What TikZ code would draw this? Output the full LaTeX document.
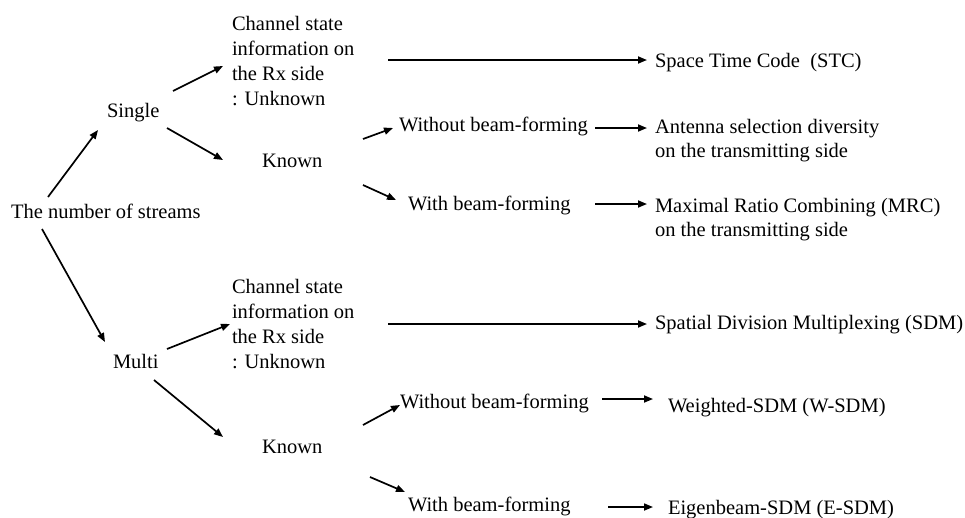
\documentclass[tikz,border=0pt]{standalone}
\usepackage{fontspec}
\setmainfont{Liberation Serif}
\usetikzlibrary{arrows.meta}

\tikzset{
  lbl/.style={inner sep=0pt, outer sep=0pt, anchor=base west,
    font=\fontsize{20.5}{25}\selectfont},
  blockA/.style={inner sep=0pt, outer sep=0pt, anchor=north west, align=left,
    font=\fontsize{20.5}{25}\selectfont},
  blockB/.style={inner sep=0pt, outer sep=0pt, anchor=north west, align=left,
    font=\fontsize{20.5}{24}\selectfont},
  arr/.style={line width=1.7pt, -{Triangle[length=9pt,width=7pt]}},
}

\begin{document}
\begin{tikzpicture}[x=1pt,y=-1pt]
\useasboundingbox (0,0) rectangle (965,517);

% root and stream counts
\node[lbl] (num)    at (11,218)  {The number of streams};
\node[lbl] (single) at (107,117) {Single};
\node[lbl] (multi)  at (113,368) {Multi};

% single stream branch
\node[blockA] (csiA) at (232,16) {Channel state\\information on\\the Rx side\\: Unknown};
\node[lbl] (knownA) at (262,167) {Known};
\node[lbl] (stc)    at (655,67)  {Space Time Code\ \ (STC)};
\node[lbl] (woA)    at (399,131) {Without beam-forming};
\node[lbl] (wA)     at (408,210) {With beam-forming};
\node[blockB] (asd) at (655,119) {Antenna selection diversity\\on the transmitting side};
\node[blockB] (mrc) at (655,198) {Maximal Ratio Combining (MRC)\\on the transmitting side};

% multi stream branch
\node[blockA] (csiB) at (232,279) {Channel state\\information on\\the Rx side\\: Unknown};
\node[lbl] (knownB) at (262,453) {Known};
\node[lbl] (sdm)    at (655,329) {Spatial Division Multiplexing (SDM)};
\node[lbl] (woB)    at (400,408) {Without beam-forming};
\node[lbl] (wB)     at (408,511) {With beam-forming};
\node[lbl] (wsdm)   at (668,412) {Weighted-SDM (W-SDM)};
\node[lbl] (esdm)   at (668,514) {Eigenbeam-SDM (E-SDM)};

% connectors
\draw[arr] ([shift={(37,-21)}]num.base west)   -- ([shift={(-9,13)}]single.base west);
\draw[arr] ([shift={(66,-26)}]single.base west) -- ([shift={(-9,50)}]csiA.north west);
\draw[arr] ([shift={(60,11)}]single.base west)  -- ([shift={(-39,-7)}]knownA.base west);
\draw[arr] ([shift={(156,44)}]csiA.north west)  -- ([shift={(-8,-7)}]stc.base west);
\draw[arr] ([shift={(101,-28)}]knownA.base west) -- ([shift={(-6,-3)}]woA.base west);
\draw[arr] ([shift={(101,18)}]knownA.base west)  -- ([shift={(-12,-10)}]wA.base west);
\draw[arr] ([shift={(196,-3)}]woA.base west)   -- ([shift={(-8,9)}]asd.north west);
\draw[arr] ([shift={(187,-6)}]wA.base west)    -- ([shift={(-8,6)}]mrc.north west);

\draw[arr] ([shift={(31,11)}]num.base west)    -- ([shift={(-8,-26)}]multi.base west);
\draw[arr] ([shift={(54,-19)}]multi.base west) -- ([shift={(-2,45)}]csiB.north west);
\draw[arr] ([shift={(41,12)}]multi.base west)  -- ([shift={(-39,-16)}]knownB.base west);
\draw[arr] ([shift={(156,45)}]csiB.north west) -- ([shift={(-8,-5)}]sdm.base west);
\draw[arr] ([shift={(101,-28)}]knownB.base west) -- ([shift={(0,-3)}]woB.base west);
\draw[arr] ([shift={(108,24)}]knownB.base west)  -- ([shift={(-3,-19)}]wB.base west);
\draw[arr] ([shift={(202,-9)}]woB.base west)   -- ([shift={(-15,-13)}]wsdm.base west);
\draw[arr] ([shift={(200,-4)}]wB.base west)    -- ([shift={(-15,-7)}]esdm.base west);
\end{tikzpicture}
\end{document}
